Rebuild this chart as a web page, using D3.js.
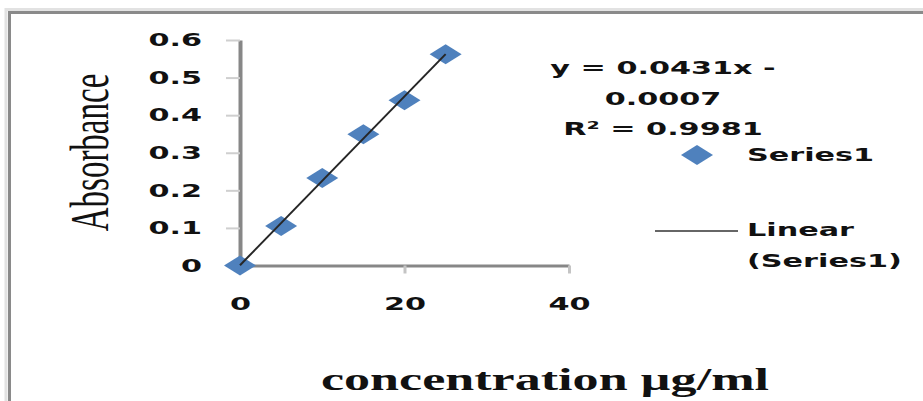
<!DOCTYPE html>
<html>
<head>
<meta charset="utf-8">
<script src="https://d3js.org/d3.v7.min.js"></script>
<style>
    body { margin: 0; background: #fff; }
    svg { display: block; }
    .tick text, .lbl { font-family: "DejaVu Sans", Verdana, sans-serif; font-weight: bold; font-size: 18px; fill: #111; }
</style>
</head>
<body>
<script>
var concentration = [0, 5, 10, 15, 20, 25];
var absorbance = [0, 0.105, 0.233, 0.349, 0.44, 0.562];

var xTicks = [0, 20, 40];
var yTicks = [0, 0.1, 0.2, 0.3, 0.4, 0.5, 0.6];

// label text as printed on the chart
var equationLines = ["y = 0.0431x -", "0.0007", "R\u00b2 = 0.9981"];
var legendLabels = ["Series1", "Linear", "(Series1)"];

var xTitle = "concentration \u00b5g/ml";
var yTitle = "Absorbance";

// the source picture is stretched sideways, so every text gets this factor
var stretchX = 1.68;

var svg = d3.select("body").append("svg")
    .attr("width", 923)
    .attr("height", 401);

function stretch(sel) {
    sel.attr("textLength", function () {
            return this.getComputedTextLength() * stretchX;
        })
        .attr("lengthAdjust", "spacingAndGlyphs");
}

// least squares fit through the plotted points
function linearFit(xs, ys) {
    var mx = d3.mean(xs), my = d3.mean(ys);
    var sxy = d3.sum(xs, function (x, i) { return (x - mx) * (ys[i] - my); });
    var sxx = d3.sum(xs, function (x) { return (x - mx) * (x - mx); });
    var m = sxy / sxx;
    return { slope: m, intercept: my - m * mx };
}

// outer frame (only top and left edges show)
svg.append("path")
    .attr("d", "M6,401 V9.5 H923")
    .attr("fill", "none")
    .attr("stroke", "#e2e2e2")
    .attr("stroke-width", 3);
svg.append("path")
    .attr("d", "M9.5,401 V12.5 H923")
    .attr("fill", "none")
    .attr("stroke", "#8a8a8a")
    .attr("stroke-width", 3);

var xScale = d3.scaleLinear()
    .domain([0, 40])
    .range([240, 569]);

var yScale = d3.scaleLinear()
    .domain([0, 0.6])
    .range([265.5, 40]);

var yAxis = d3.axisLeft(yScale)
    .tickValues(yTicks)
    .tickFormat(function (d) { return d === 0 ? "0" : d3.format(".1f")(d); })
    .tickSize(14)
    .tickSizeOuter(0)
    .tickPadding(24);

var xAxis = d3.axisBottom(xScale)
    .tickValues(xTicks)
    .tickFormat(d3.format("d"))
    .tickSize(8)
    .tickSizeOuter(0);

var gy = svg.append("g")
    .attr("transform", "translate(" + xScale(0) + ",0)")
    .call(yAxis);
gy.select(".domain").attr("stroke", "#878787").attr("stroke-width", 4);
gy.selectAll(".tick line").attr("stroke", "#cfcfcf").attr("stroke-width", 2);
gy.selectAll(".tick text").attr("x", -38).call(stretch);

var gx = svg.append("g")
    .attr("transform", "translate(0," + yScale(0) + ")")
    .call(xAxis);
gx.select(".domain").attr("stroke", "#878787").attr("stroke-width", 3);
gx.selectAll(".tick line").attr("stroke", "#c4c4c4").attr("stroke-width", 3);
gx.selectAll(".tick text").attr("y", 44).attr("dy", null).call(stretch);
gx.selectAll(".domain, .tick line").lower();

// axis titles
svg.append("text")
    .attr("transform", "translate(108,152.5) scale(" + stretchX + ",1) rotate(-90)")
    .attr("text-anchor", "middle")
    .style("font-family", "'Liberation Serif', 'Times New Roman', serif")
    .style("font-size", "33px")
    .attr("fill", "#111")
    .text(yTitle);

svg.append("text")
    .attr("x", 545)
    .attr("y", 390)
    .attr("text-anchor", "middle")
    .style("font-family", "'Liberation Serif', 'Times New Roman', serif")
    .style("font-weight", "bold")
    .style("font-size", "31px")
    .attr("fill", "#111")
    .text(xTitle)
    .call(stretch);

// markers
var diamond = "M0,-10 L16,0 L0,10 L-16,0Z";

svg.append("g").selectAll("path")
    .data(concentration)
    .enter().append("path")
    .attr("d", diamond)
    .attr("fill", "#4f81bd")
    .attr("transform", function (d, i) {
        return "translate(" + xScale(d) + "," + yScale(absorbance[i]) + ")";
    });

// linear trendline, drawn over the markers
var fit = linearFit(concentration, absorbance);
var trendX = d3.extent(concentration);
svg.append("line")
    .attr("x1", xScale(trendX[0]))
    .attr("y1", yScale(fit.slope * trendX[0] + fit.intercept))
    .attr("x2", xScale(trendX[1]))
    .attr("y2", yScale(fit.slope * trendX[1] + fit.intercept))
    .attr("stroke", "#262626")
    .attr("stroke-width", 2);

// trendline equation
svg.append("g").selectAll("text")
    .data(equationLines)
    .enter().append("text")
    .attr("class", "lbl")
    .attr("x", 663)
    .attr("y", function (d, i) { return 74 + i * 30.5; })
    .attr("text-anchor", "middle")
    .text(function (d) { return d; })
    .call(stretch);

// legend
svg.append("path")
    .attr("d", diamond)
    .attr("fill", "#4f81bd")
    .attr("transform", "translate(697,155)");

svg.append("line")
    .attr("x1", 655).attr("x2", 738)
    .attr("y1", 231).attr("y2", 231)
    .attr("stroke", "#666")
    .attr("stroke-width", 2);

svg.append("g").selectAll("text")
    .data(legendLabels)
    .enter().append("text")
    .attr("class", "lbl")
    .attr("x", 747)
    .attr("y", function (d, i) { return [161, 236, 267][i]; })
    .text(function (d) { return d; })
    .call(stretch);
</script>
</body>
</html>
